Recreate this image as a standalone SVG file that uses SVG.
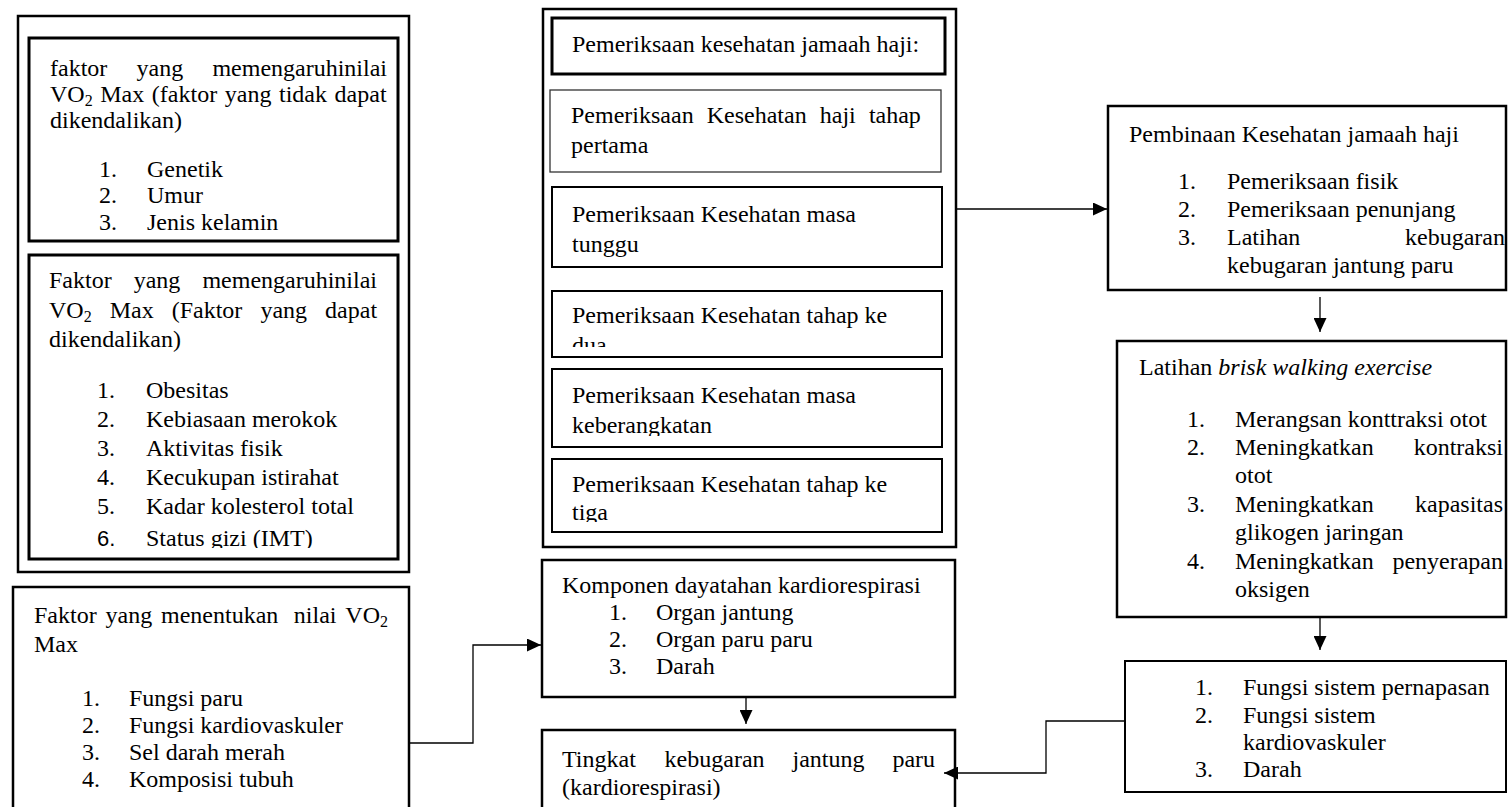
<svg xmlns="http://www.w3.org/2000/svg" width="1508" height="807" viewBox="0 0 1508 807">
<style>
text{font-family:"Liberation Serif","Times New Roman",serif;font-size:24px;fill:#000}
.box{fill:#fff;stroke:#000}
.thick{stroke-width:3}
.mid{stroke-width:2.5}
.thin{stroke-width:1.3;stroke:#333}
.con{fill:none;stroke:#000;stroke-width:1.3}
.sub{font-size:16px}
.sans{font-family:"Liberation Sans",Arial,sans-serif;font-size:22px}
</style>
<defs>
<marker id="arr" markerUnits="userSpaceOnUse" markerWidth="15" markerHeight="13" refX="14" refY="6.5" orient="auto">
<path d="M0,0 L14,6.5 L0,13 z" fill="#000"/>
</marker>
<clipPath id="cStatus"><rect x="29" y="255" width="369" height="293"/></clipPath>
<clipPath id="cDua"><rect x="552" y="291" width="390" height="56"/></clipPath>
<clipPath id="cBerangkat"><rect x="552" y="369" width="390" height="67"/></clipPath>
<clipPath id="cTiga"><rect x="552" y="459" width="390" height="63"/></clipPath>
</defs>
<rect width="1508" height="807" fill="#fff"/>

<g id="left-group">
<rect class="box mid" x="18" y="16" width="391" height="556"/>
</g>

<g id="node-tidak-dikendalikan">
<rect class="box thick" x="29" y="38" width="369" height="203"/>
<text y="76"><tspan x="50">faktor</tspan><tspan x="136.5">yang</tspan><tspan x="212.4">memengaruhinilai</tspan></text>
<text x="50" y="102" word-spacing="1.6">VO<tspan class="sub" dy="4">2</tspan><tspan dy="-4"> Max (faktor yang tidak dapat</tspan></text>
<text x="50" y="128">dikendalikan)</text>
<text x="99" y="177">1.</text><text x="147" y="177">Genetik</text>
<text x="99" y="203">2.</text><text x="147" y="203">Umur</text>
<text x="99" y="230">3.</text><text x="147" y="230">Jenis kelamin</text>
</g>

<g id="node-dapat-dikendalikan">
<rect class="box thick" x="29" y="255" width="369" height="304"/>
<text y="288"><tspan x="49">Faktor</tspan><tspan x="133.7">yang</tspan><tspan x="202.4">memengaruhinilai</tspan></text>
<text y="318"><tspan x="49">VO</tspan><tspan class="sub" dy="4">2</tspan><tspan x="109.7" dy="-4">Max</tspan><tspan x="171.7">(Faktor</tspan><tspan x="260.4">yang</tspan><tspan x="325.1">dapat</tspan></text>
<text x="49" y="347">dikendalikan)</text>
<text x="97" y="398">1.</text><text x="146" y="398">Obesitas</text>
<text x="97" y="427">2.</text><text x="146" y="427">Kebiasaan merokok</text>
<text x="97" y="456">3.</text><text x="146" y="456">Aktivitas fisik</text>
<text x="97" y="485">4.</text><text x="146" y="485">Kecukupan istirahat</text>
<text x="97" y="514">5.</text><text x="146" y="514">Kadar kolesterol total</text>
<g clip-path="url(#cStatus)">
<text class="sans" x="97" y="546">6.</text><text x="146" y="546">Status gizi (IMT)</text>
</g>
</g>

<g id="node-menentukan">
<rect class="box mid" x="13" y="587" width="396" height="240"/>
<text y="623"><tspan x="34">Faktor</tspan><tspan x="105.5">yang</tspan><tspan x="161">menentukan</tspan><tspan x="293.8">nilai</tspan><tspan x="345.3">VO</tspan><tspan class="sub" dy="4">2</tspan></text>
<text x="34" y="652">Max</text>
<text x="82" y="706">1.</text><text x="129" y="706">Fungsi paru</text>
<text x="82" y="733">2.</text><text x="129" y="733">Fungsi kardiovaskuler</text>
<text x="82" y="760">3.</text><text x="129" y="760">Sel darah merah</text>
<text x="82" y="787">4.</text><text x="129" y="787">Komposisi tubuh</text>
</g>

<g id="middle-group">
<rect class="box mid" x="543" y="9" width="413" height="538"/>
</g>

<g id="node-header">
<rect class="box thick" x="552" y="18" width="393" height="56"/>
<text x="572" y="52">Pemeriksaan kesehatan jamaah haji:</text>
</g>

<g id="node-tahap-pertama">
<rect class="box thin" x="550" y="90" width="391" height="82"/>
<text y="123"><tspan x="571">Pemeriksaan</tspan><tspan x="706.7">Kesehatan</tspan><tspan x="819.8">haji</tspan><tspan x="868.9">tahap</tspan></text>
<text x="571" y="153">pertama</text>
</g>

<g id="node-masa-tunggu">
<rect class="box" stroke-width="2" x="552" y="187" width="390" height="80"/>
<text x="572" y="222">Pemeriksaan Kesehatan masa</text>
<text x="572" y="252">tunggu</text>
</g>

<g id="node-tahap-dua">
<rect class="box" stroke-width="2" x="552" y="291" width="390" height="66"/>
<g clip-path="url(#cDua)">
<text x="572" y="323">Pemeriksaan Kesehatan tahap ke</text>
<text x="572" y="353">dua</text>
</g>
</g>

<g id="node-keberangkatan">
<rect class="box" stroke-width="2" x="552" y="369" width="390" height="78"/>
<g clip-path="url(#cBerangkat)">
<text x="572" y="403">Pemeriksaan Kesehatan masa</text>
<text x="572" y="433">keberangkatan</text>
</g>
</g>

<g id="node-tahap-tiga">
<rect class="box" stroke-width="2" x="552" y="459" width="390" height="73"/>
<g clip-path="url(#cTiga)">
<text x="572" y="492">Pemeriksaan Kesehatan tahap ke</text>
<text x="572" y="520">tiga</text>
</g>
</g>

<g id="node-komponen">
<rect class="box mid" x="542" y="560" width="413" height="137"/>
<text x="562" y="593">Komponen dayatahan kardiorespirasi</text>
<text x="609" y="620">1.</text><text x="656" y="620">Organ jantung</text>
<text x="609" y="647">2.</text><text x="656" y="647">Organ paru paru</text>
<text x="609" y="674">3.</text><text x="656" y="674">Darah</text>
</g>

<g id="node-tingkat">
<rect class="box mid" x="542" y="730" width="413" height="100"/>
<text y="767"><tspan x="562">Tingkat</tspan><tspan x="664.6">kebugaran</tspan><tspan x="792.5">jantung</tspan><tspan x="892.4">paru</tspan></text>
<text x="562" y="795">(kardiorespirasi)</text>
</g>

<g id="node-pembinaan">
<rect class="box mid" x="1108" y="106" width="398" height="184"/>
<text x="1129" y="142">Pembinaan Kesehatan jamaah haji</text>
<text x="1178" y="189">1.</text><text x="1227" y="189">Pemeriksaan fisik</text>
<text x="1178" y="217">2.</text><text x="1227" y="217">Pemeriksaan penunjang</text>
<text x="1178" y="245">3.</text><text x="1227" y="245">Latihan</text><text x="1505" y="245" text-anchor="end">kebugaran</text>
<text x="1227" y="273">kebugaran jantung paru</text>
</g>

<g id="node-brisk-walking">
<rect class="box mid" x="1117" y="341" width="389" height="276"/>
<text x="1139" y="375">Latihan <tspan font-style="italic">brisk walking exercise</tspan></text>
<text x="1187" y="427">1.</text><text x="1235" y="427">Merangsan konttraksi otot</text>
<text x="1187" y="455">2.</text><text x="1235" y="455">Meningkatkan</text><text x="1503" y="455" text-anchor="end">kontraksi</text>
<text x="1235" y="483">otot</text>
<text x="1187" y="512">3.</text><text x="1235" y="512">Meningkatkan</text><text x="1503" y="512" text-anchor="end">kapasitas</text>
<text x="1235" y="540">glikogen jaringan</text>
<text x="1187" y="569">4.</text><text x="1235" y="569">Meningkatkan</text><text x="1503" y="569" text-anchor="end">penyerapan</text>
<text x="1235" y="597">oksigen</text>
</g>

<g id="node-fungsi-sistem">
<rect class="box" stroke-width="2" x="1125" y="661" width="381" height="131"/>
<text x="1195" y="695">1.</text><text x="1243" y="695">Fungsi sistem pernapasan</text>
<text x="1195" y="723">2.</text><text x="1243" y="723">Fungsi sistem</text>
<text x="1243" y="750">kardiovaskuler</text>
<text x="1195" y="777">3.</text><text x="1243" y="777">Darah</text>
</g>

<g id="connectors">
<path class="con" d="M956,209 H1107" marker-end="url(#arr)"/>
<path class="con" d="M1320,297 V332" marker-end="url(#arr)"/>
<path class="con" d="M1320,618 V650" marker-end="url(#arr)"/>
<path class="con" d="M746,698 V724" marker-end="url(#arr)"/>
<path class="con" d="M1125,721 H1046 V773 H944" marker-end="url(#arr)"/>
<path class="con" d="M409,743 H473 V645 H541" marker-end="url(#arr)"/>
</g>
</svg>
